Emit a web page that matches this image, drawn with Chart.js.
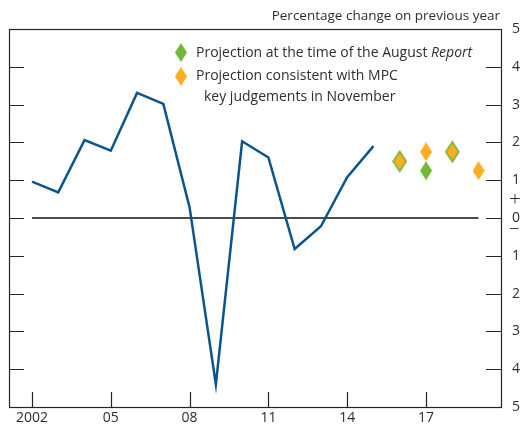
<!DOCTYPE html>
<html>
<head>
<meta charset="utf-8">
<title>GDP growth</title>
<script src="https://cdn.jsdelivr.net/npm/chart.js@4.4.1/dist/chart.umd.min.js"></script>
<style>
  html, body { margin: 0; padding: 0; background: #fff; }
  #wrap { width: 520px; height: 430px; }
</style>
</head>
<body>
<div id="wrap"><canvas id="chart" width="520" height="430"></canvas></div>
<script>
// Annual GDP growth, percentage change on previous year
const years = [2002, 2003, 2004, 2005, 2006, 2007, 2008, 2009, 2010, 2011, 2012, 2013, 2014, 2015];
const growth = [0.96, 0.68, 2.06, 1.78, 3.31, 3.02, 0.28, -4.4, 2.03, 1.6, -0.82, -0.22, 1.08, 1.9];

// Projections for the following years
const projYears = [2016, 2017, 2018, 2019];
const augustProj = [1.5, 1.25, 1.75, null];
const novemberProj = [1.5, 1.75, 1.75, 1.25];

const xTicks = [2002, 2005, 2008, 2011, 2014, 2017];
const xTickLabels = ['2002', '05', '08', '11', '14', '17'];
const yTicks = [-5, -4, -3, -2, -1, 0, 1, 2, 3, 4, 5];

const BLUE = '#0b558c';
const GREEN = '#74b83a';
const ORANGE = '#fbae1f';
const TEXT = '#2e2e2e';
const FONT = "'Open Sans', 'Noto Sans', sans-serif";

// tall diamond marker drawn onto a small canvas, used as pointStyle
function diamond(w, h, fill, edge, edgeWidth) {
    const c = document.createElement('canvas');
    c.width = w;
    c.height = h;
    const g = c.getContext('2d');
    g.beginPath();
    g.moveTo(w / 2, 0);
    g.lineTo(w, h / 2);
    g.lineTo(w / 2, h);
    g.lineTo(0, h / 2);
    g.closePath();
    if (edge) {
        g.fillStyle = edge;
        g.fill();
        const k = edgeWidth;
        g.beginPath();
        g.moveTo(w / 2, k * 1.6);
        g.lineTo(w - k, h / 2);
        g.lineTo(w / 2, h - k * 1.6);
        g.lineTo(k, h / 2);
        g.closePath();
    }
    g.fillStyle = fill;
    g.fill();
    return c;
}

const greenMark = diamond(12, 19, GREEN);
const orangeMark = diamond(12, 19, ORANGE);
const orangeOnGreen = diamond(15, 23, ORANGE, GREEN, 2);

const toPoints = (xs, ys) => xs.map((x, i) => ({ x: x, y: ys[i] })).filter(p => p.y !== null);
const augustPoints = toPoints(projYears, augustProj);
const novemberPoints = toPoints(projYears, novemberProj);

// November markers sitting on an August projection get a green rim
const novemberStyles = novemberPoints.map(p => {
    const i = projYears.indexOf(p.x);
    return augustProj[i] === p.y ? orangeOnGreen : orangeMark;
});

const framePlugin = {
    id: 'frame',
    afterDraw(chart) {
        const { ctx, chartArea: a, scales } = chart;
        const x = scales.x, y = scales.y;
        ctx.save();
        ctx.strokeStyle = '#262626';
        ctx.lineWidth = 1.2;
        ctx.strokeRect(a.left + 0.5, a.top + 0.5, a.right - a.left, a.bottom - a.top);

        ctx.beginPath();
        yTicks.forEach(v => {
            if (v === 5 || v === -5) return;
            const py = Math.round(y.getPixelForValue(v)) + 0.5;
            ctx.moveTo(a.left, py);
            ctx.lineTo(a.left + 15, py);
            ctx.moveTo(a.right - 15, py);
            ctx.lineTo(a.right, py);
        });
        xTicks.forEach(v => {
            const px = Math.round(x.getPixelForValue(v)) + 0.5;
            ctx.moveTo(px, a.bottom);
            ctx.lineTo(px, a.bottom - 15);
        });
        ctx.stroke();

        // sign markers around zero on the right axis
        ctx.fillStyle = TEXT;
        ctx.textAlign = 'left';
        ctx.textBaseline = 'middle';
        const zero = y.getPixelForValue(0);
        ctx.font = '300 21px ' + FONT;
        ctx.fillText('+', 509, zero - 18);
        ctx.fillText('\u2013', 509, zero + 10);

        // units caption
        ctx.font = '13.5px ' + FONT;
        ctx.textAlign = 'right';
        ctx.fillText('Percentage change on previous year', 500, 16);

        // legend
        ctx.drawImage(greenMark, 175, 43);
        ctx.drawImage(orangeMark, 175, 67);
        ctx.font = '14px ' + FONT;
        ctx.textAlign = 'left';
        ctx.fillText('Projection at the time of the August ', 196, 53);
        const w = ctx.measureText('Projection at the time of the August ').width;
        ctx.font = 'italic 14px ' + FONT;
        ctx.fillText('Report', 196 + w, 53);
        ctx.font = '14px ' + FONT;
        ctx.fillText('Projection consistent with MPC', 196, 76);
        ctx.fillText('key judgements in November', 204, 97);
        ctx.restore();
    }
};

new Chart(document.getElementById('chart'), {
    type: 'line',
    data: {
        datasets: [
            {
                label: 'November projection',
                data: novemberPoints,
                showLine: false,
                pointStyle: novemberStyles,
                order: 0
            },
            {
                label: 'August projection',
                data: augustPoints,
                showLine: false,
                pointStyle: greenMark,
                order: 1
            },
            {
                label: 'GDP growth',
                data: toPoints(years, growth),
                borderColor: BLUE,
                borderWidth: 2.5,
                pointRadius: 0,
                tension: 0,
                order: 2
            },
            {
                label: 'zero',
                data: [{ x: 2002, y: 0 }, { x: 2019, y: 0 }],
                borderColor: '#111111',
                borderWidth: 1.3,
                pointRadius: 0,
                order: 3
            }
        ]
    },
    options: {
        responsive: false,
        animation: false,
        layout: { padding: { top: 29, left: 9, right: 0, bottom: 0 } },
        plugins: {
            legend: { display: false },
            tooltip: { enabled: false }
        },
        scales: {
            x: {
                type: 'linear',
                min: 2001.125,
                max: 2019.855,
                afterBuildTicks: s => { s.ticks = xTicks.map(v => ({ value: v })); },
                afterFit: s => { s.height = 23; },
                grid: { display: false, drawTicks: false },
                border: { display: false },
                ticks: {
                    padding: 3,
                    color: TEXT,
                    font: { family: FONT, size: 14 },
                    maxRotation: 0,
                    autoSkip: false,
                    callback: v => xTickLabels[xTicks.indexOf(v)]
                }
            },
            y: {
                position: 'right',
                min: -5,
                max: 5,
                afterBuildTicks: s => { s.ticks = yTicks.map(v => ({ value: v })); },
                afterFit: s => { s.width = 19; },
                grid: { display: false, drawTicks: false },
                border: { display: false },
                ticks: {
                    padding: 11,
                    color: TEXT,
                    font: { family: FONT, size: 14 },
                    callback: v => String(Math.abs(v))
                }
            }
        }
    },
    plugins: [framePlugin]
});
</script>
</body>
</html>
